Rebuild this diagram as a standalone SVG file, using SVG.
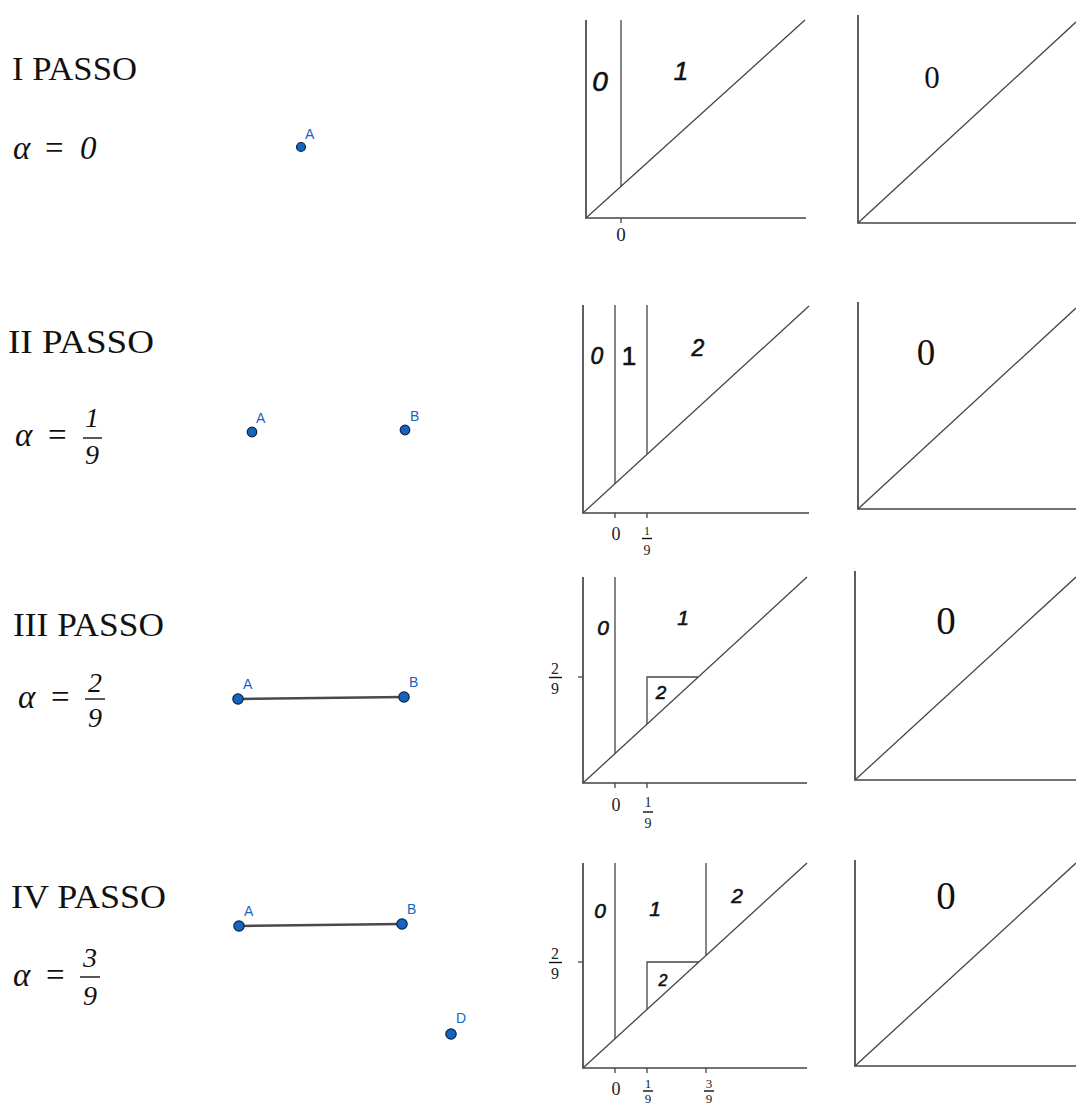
<svg xmlns="http://www.w3.org/2000/svg" width="1076" height="1106" viewBox="0 0 1076 1106">
<style>
.title{font-family:"Liberation Serif",serif;font-size:34px;fill:#111}
.math{font-family:"Liberation Serif",serif;font-size:33px;fill:#111}
.it{font-style:italic}
.frac{font-family:"Liberation Serif",serif;font-size:28px;font-style:italic;fill:#111;text-anchor:middle}
.bar{stroke:#111;stroke-width:1.4}
.ax{fill:none;stroke:#444;stroke-width:1.7}
.ln{fill:none;stroke:#444;stroke-width:1.3}
.reg{font-family:"Liberation Sans",Arial,sans-serif;font-style:italic;fill:#111;stroke:#111;stroke-width:0.6;text-anchor:middle}
.up{font-style:normal}
.tick{font-family:"Liberation Serif",serif;fill:#222;text-anchor:middle}
.big0{font-family:"Liberation Serif",serif;fill:#111;text-anchor:middle}
.pt{fill:#1565c0;stroke:#0b2545;stroke-width:1.2}
.lbl{font-family:"Liberation Sans",Arial,sans-serif;font-size:14px;fill:#1565c0}
.seg{stroke:#4a4a4a;stroke-width:2.6}
</style>

<!-- Step I -->
<g id="step1-text">
<text class="title" x="12" y="80" textLength="125" lengthAdjust="spacingAndGlyphs">I PASSO</text>
<text class="math it" x="13" y="159">α</text>
<text class="math" x="45" y="159">=</text>
<text class="math it" x="80" y="159">0</text>
</g>
<g id="step1-points">
<circle class="pt" cx="301" cy="147" r="4.5"/>
<text class="lbl" x="305" y="139">A</text>
</g>
<g id="plot1-left">
<path class="ax" d="M586,20 V218 H806"/>
<line class="ln" x1="586" y1="218" x2="805" y2="20"/>
<line class="ln" x1="621" y1="20" x2="621" y2="186"/>
<line class="ln" x1="621" y1="218" x2="621" y2="223"/>
<text class="reg" x="600" y="91" font-size="28">0</text>
<text class="reg" x="681" y="80" font-size="26">1</text>
<text class="tick" x="621" y="241" font-size="19">0</text>
</g>
<g id="plot1-right">
<path class="ax" d="M858,15 V223 H1076"/>
<line class="ln" x1="858" y1="223" x2="1076" y2="22"/>
<text class="big0" x="932" y="88" font-size="31">0</text>
</g>

<!-- Step II -->
<g id="step2-text">
<text class="title" x="8" y="353" textLength="146" lengthAdjust="spacingAndGlyphs">II PASSO</text>
<text class="math it" x="15" y="446">α</text>
<text class="math" x="48" y="446">=</text>
<text class="frac" x="92" y="427">1</text>
<line class="bar" x1="83" y1="438" x2="102" y2="438"/>
<text class="frac" x="92" y="464">9</text>
</g>
<g id="step2-points">
<circle class="pt" cx="252" cy="432" r="4.8"/>
<text class="lbl" x="256" y="423">A</text>
<circle class="pt" cx="405" cy="430" r="4.8"/>
<text class="lbl" x="410" y="421">B</text>
</g>
<g id="plot2-left">
<path class="ax" d="M583,305 V513 H809"/>
<line class="ln" x1="583" y1="513" x2="809" y2="306"/>
<line class="ln" x1="615" y1="305" x2="615" y2="484"/>
<line class="ln" x1="647" y1="305" x2="647" y2="454"/>
<line class="ln" x1="615" y1="513" x2="615" y2="518"/>
<line class="ln" x1="647" y1="513" x2="647" y2="518"/>
<text class="reg" x="597" y="364" font-size="23">0</text>
<text class="reg up" x="629" y="365" font-size="26">1</text>
<text class="reg" x="698" y="356" font-size="23">2</text>
<text class="tick" x="616" y="540" font-size="18">0</text>
<text class="tick" x="647" y="535" font-size="12">1</text>
<line class="bar" x1="642" y1="538.5" x2="652" y2="538.5" stroke-width="0.8"/>
<text class="tick" x="647" y="555" font-size="14">9</text>
</g>
<g id="plot2-right">
<path class="ax" d="M858,302 V509 H1076"/>
<line class="ln" x1="858" y1="509" x2="1076" y2="308"/>
<text class="big0" x="926" y="365" font-size="37">0</text>
</g>

<!-- Step III -->
<g id="step3-text">
<text class="title" x="13" y="636" textLength="151" lengthAdjust="spacingAndGlyphs">III PASSO</text>
<text class="math it" x="18" y="708">α</text>
<text class="math" x="51" y="708">=</text>
<text class="frac" x="95" y="692">2</text>
<line class="bar" x1="85" y1="699" x2="105" y2="699"/>
<text class="frac" x="95" y="727">9</text>
</g>
<g id="step3-points">
<line class="seg" x1="238" y1="699" x2="404" y2="697"/>
<circle class="pt" cx="238" cy="699" r="5.2"/>
<text class="lbl" x="243" y="689">A</text>
<circle class="pt" cx="404" cy="697" r="5.2"/>
<text class="lbl" x="409" y="687">B</text>
</g>
<g id="plot3-left">
<path class="ax" d="M583,577 V783 H807"/>
<line class="ln" x1="583" y1="783" x2="807" y2="577"/>
<line class="ln" x1="615" y1="577" x2="615" y2="754"/>
<path class="ln" d="M647,724 V677 H698"/>
<line class="ln" x1="578" y1="677" x2="583" y2="677"/>
<line class="ln" x1="615" y1="783" x2="615" y2="788"/>
<line class="ln" x1="647" y1="783" x2="647" y2="788"/>
<text class="reg" x="603" y="635" font-size="21">0</text>
<text class="reg" x="683" y="625" font-size="21">1</text>
<text class="reg" x="661" y="699" font-size="19">2</text>
<text class="tick" x="555" y="674" font-size="16">2</text>
<line class="bar" x1="549" y1="677.5" x2="562" y2="677.5" stroke-width="0.9"/>
<text class="tick" x="555" y="694" font-size="16">9</text>
<text class="tick" x="616" y="811" font-size="18">0</text>
<text class="tick" x="648" y="807" font-size="14">1</text>
<line class="bar" x1="643" y1="812" x2="653" y2="812" stroke-width="0.9"/>
<text class="tick" x="648" y="828" font-size="14">9</text>
</g>
<g id="plot3-right">
<path class="ax" d="M855,571 V780 H1076"/>
<line class="ln" x1="855" y1="780" x2="1076" y2="577"/>
<text class="big0" x="946" y="634" font-size="39">0</text>
</g>

<!-- Step IV -->
<g id="step4-text">
<text class="title" x="11" y="908" textLength="155" lengthAdjust="spacingAndGlyphs">IV PASSO</text>
<text class="math it" x="13" y="986">α</text>
<text class="math" x="46" y="986">=</text>
<text class="frac" x="90" y="967">3</text>
<line class="bar" x1="80" y1="977" x2="100" y2="977"/>
<text class="frac" x="90" y="1005">9</text>
</g>
<g id="step4-points">
<line class="seg" x1="239" y1="926" x2="402" y2="924"/>
<circle class="pt" cx="239" cy="926" r="5.2"/>
<text class="lbl" x="244" y="916">A</text>
<circle class="pt" cx="402" cy="924" r="5.2"/>
<text class="lbl" x="407" y="914">B</text>
<circle class="pt" cx="451" cy="1034" r="5.2"/>
<text class="lbl" x="456" y="1023">D</text>
</g>
<g id="plot4-left">
<path class="ax" d="M583,863 V1068 H807"/>
<line class="ln" x1="583" y1="1068" x2="807" y2="863"/>
<line class="ln" x1="615" y1="863" x2="615" y2="1039"/>
<path class="ln" d="M647,1009 V962 H699"/>
<line class="ln" x1="706" y1="863" x2="706" y2="955"/>
<line class="ln" x1="578" y1="962" x2="583" y2="962"/>
<line class="ln" x1="615" y1="1068" x2="615" y2="1073"/>
<line class="ln" x1="647" y1="1068" x2="647" y2="1073"/>
<line class="ln" x1="706" y1="1068" x2="706" y2="1073"/>
<text class="reg" x="600" y="918" font-size="21">0</text>
<text class="reg" x="655" y="916" font-size="21">1</text>
<text class="reg" x="737" y="903" font-size="21">2</text>
<text class="reg" x="663" y="986" font-size="16">2</text>
<text class="tick" x="555" y="959" font-size="16">2</text>
<line class="bar" x1="549" y1="962.5" x2="562" y2="962.5" stroke-width="0.9"/>
<text class="tick" x="555" y="979" font-size="16">9</text>
<text class="tick" x="616" y="1095" font-size="18">0</text>
<text class="tick" x="648" y="1088" font-size="13">1</text>
<line class="bar" x1="643" y1="1091" x2="653" y2="1091" stroke-width="0.9"/>
<text class="tick" x="648" y="1103" font-size="13">9</text>
<text class="tick" x="709" y="1088" font-size="13">3</text>
<line class="bar" x1="704" y1="1091" x2="714" y2="1091" stroke-width="0.9"/>
<text class="tick" x="709" y="1103" font-size="13">9</text>
</g>
<g id="plot4-right">
<path class="ax" d="M855,860 V1066 H1076"/>
<line class="ln" x1="855" y1="1066" x2="1076" y2="863"/>
<text class="big0" x="946" y="909" font-size="39">0</text>
</g>
<g id="connectors"/>
</svg>
